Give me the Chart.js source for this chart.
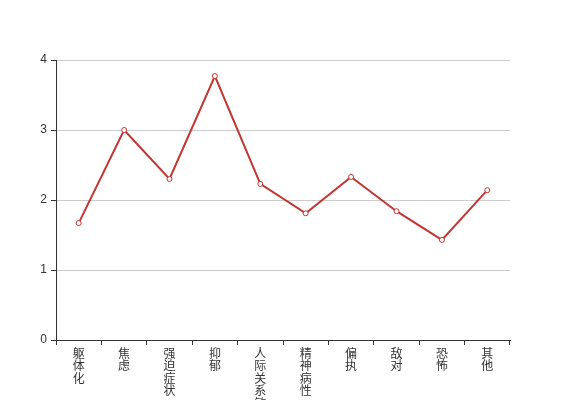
<!DOCTYPE html>
<html>
<head>
<meta charset="utf-8">
<script src="https://cdn.jsdelivr.net/npm/chart.js@4/dist/chart.umd.min.js"></script>
<style>
  html, body { margin: 0; padding: 0; background: #fff; }
  #wrap { width: 567px; height: 400px; }
</style>
</head>
<body>
<div id="wrap"><canvas id="chart"></canvas></div>
<script>
'use strict';

const categories = ['躯体化', '焦虑', '强迫症状', '抑郁', '人际关系敏感', '精神病性', '偏执', '敌对', '恐怖', '其他'];
const scores = [1.67, 3.0, 2.3, 3.77, 2.23, 1.81, 2.33, 1.84, 1.43, 2.14];
const yTicks = [0, 1, 2, 3, 4];

// vertical labels: one character per line
const verticalLabels = categories.map(c => c.split(''));

const FONT = '"Liberation Sans", "Noto Sans CJK SC", sans-serif';

new Chart(document.getElementById('chart'), {
  type: 'line',
  data: {
    labels: verticalLabels,
    datasets: [{
      data: scores,
      borderColor: '#c23531',
      backgroundColor: '#fff',
      pointBackgroundColor: '#fff',
      pointBorderColor: '#c23531',
      pointBorderWidth: 1,
      pointRadius: 2.5,
      borderWidth: 2,
      tension: 0,
      fill: false,
    }],
  },
  options: {
    responsive: true,
    maintainAspectRatio: false,
    animation: false,
    events: [],
    layout: { padding: { left: 0, right: 57, top: 60, bottom: 0 } },
    plugins: {
      legend: { display: false },
      tooltip: { enabled: false },
    },
    scales: {
      x: {
        type: 'category',
        offset: true,
        afterFit: (s) => { s.height = 60; },
        grid: { offset: true, drawOnChartArea: false, tickLength: 5, tickColor: '#333' },
        border: { color: '#333', width: 1 },
        ticks: {
          maxRotation: 0,
          minRotation: 0,
          autoSkip: false,
          padding: 3,
          color: '#333',
          font: { size: 12, family: FONT, lineHeight: 1.05 },
        },
      },
      y: {
        min: 0,
        max: 4,
        afterFit: (s) => { s.width = 56; },
        afterBuildTicks: (s) => { s.ticks = yTicks.map(v => ({ value: v })); },
        grid: { color: '#ccc', tickColor: '#333', tickLength: 5 },
        border: { color: '#333', width: 1 },
        ticks: {
          padding: 4,
          color: '#333',
          font: { size: 12, family: FONT },
        },
      },
    },
  },
});
</script>
</body>
</html>
